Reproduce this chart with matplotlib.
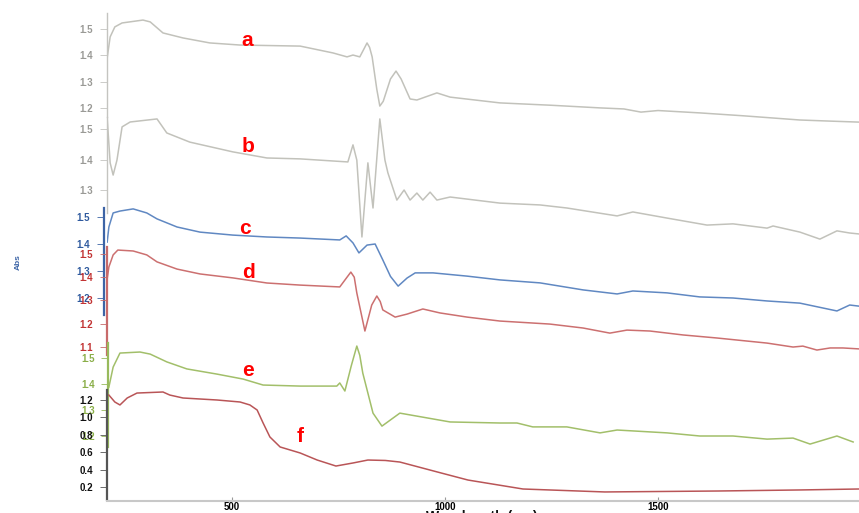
import matplotlib.pyplot as plt

# absorbance spectra, one trace per sample
wl_a = [207, 214, 225, 242, 291, 308, 338, 385, 448, 519, 660, 737, 770, 784, 800, 810, 817, 823,
        829, 840, 847, 855, 872, 885, 897, 918, 934, 981, 1012, 1129, 1250, 1364, 1420, 1460, 1500,
        1598, 1700, 1833, 1900, 1971]
abs_a = [1.390, 1.470, 1.508, 1.523, 1.534, 1.527, 1.485, 1.466, 1.447, 1.439, 1.435, 1.409, 1.394,
         1.401, 1.394, 1.425, 1.447, 1.430, 1.394, 1.270, 1.207, 1.225, 1.310, 1.340, 1.310, 1.234,
         1.230, 1.257, 1.241, 1.219, 1.210, 1.200, 1.196, 1.184, 1.190, 1.181, 1.170, 1.154, 1.150,
         1.146]

wl_b = [207, 214, 221, 230, 242, 261, 324, 347, 401, 502, 582, 660, 772, 784, 793, 805, 819, 831,
        847, 859, 866, 887, 904, 918, 934, 948, 965, 981, 1012, 1129, 1223, 1286, 1404, 1441, 1521,
        1615, 1676, 1756, 1770, 1833, 1880, 1920, 1950, 1971]
abs_b = [1.536, 1.389, 1.349, 1.398, 1.507, 1.523, 1.533, 1.487, 1.457, 1.425, 1.405, 1.402, 1.392,
         1.448, 1.398, 1.146, 1.389, 1.241, 1.533, 1.398, 1.356, 1.267, 1.300, 1.267, 1.290, 1.267,
         1.293, 1.267, 1.277, 1.257, 1.251, 1.241, 1.215, 1.228, 1.208, 1.185, 1.189, 1.175, 1.182,
         1.162, 1.139, 1.166, 1.159, 1.156]

wl_c = [207, 211, 221, 237, 268, 300, 324, 371, 425, 502, 582, 660, 753, 768, 784, 798, 817, 836,
        854, 872, 890, 911, 930, 972, 1052, 1129, 1223, 1324, 1404, 1441, 1521, 1598, 1676, 1756,
        1833, 1920, 1950, 1971]
abs_c = [1.407, 1.463, 1.515, 1.522, 1.530, 1.515, 1.493, 1.463, 1.444, 1.433, 1.426, 1.422, 1.415,
         1.430, 1.404, 1.367, 1.396, 1.400, 1.341, 1.280, 1.244, 1.274, 1.293, 1.293, 1.281, 1.267,
         1.256, 1.230, 1.215, 1.226, 1.219, 1.204, 1.200, 1.189, 1.181, 1.152, 1.174, 1.170]

wl_d = [207, 211, 221, 232, 268, 300, 324, 371, 425, 502, 582, 660, 753, 770, 779, 787, 793, 812,
        828, 840, 848, 854, 883, 911, 948, 988, 1052, 1129, 1246, 1324, 1387, 1427, 1481, 1559, 1638,
        1756, 1817, 1840, 1873, 1904, 1934, 1971]
abs_d = [1.392, 1.444, 1.496, 1.517, 1.513, 1.496, 1.466, 1.435, 1.414, 1.397, 1.375, 1.366, 1.358,
         1.400, 1.422, 1.400, 1.332, 1.168, 1.280, 1.319, 1.295, 1.259, 1.228, 1.241, 1.263, 1.246,
         1.228, 1.211, 1.198, 1.181, 1.159, 1.172, 1.168, 1.151, 1.138, 1.116, 1.099, 1.103, 1.086,
         1.095, 1.095, 1.091]

wl_e = [211, 221, 237, 284, 308, 347, 394, 465, 526, 573, 660, 746, 753, 765, 780, 793, 800, 807,
        831, 852, 878, 894, 1012, 1129, 1169, 1206, 1286, 1364, 1404, 1521, 1598, 1676, 1756, 1817,
        1857, 1920, 1958]
abs_e = [1.388, 1.465, 1.519, 1.523, 1.515, 1.485, 1.458, 1.438, 1.419, 1.396, 1.392, 1.392, 1.404,
         1.373, 1.470, 1.546, 1.510, 1.442, 1.288, 1.238, 1.269, 1.288, 1.254, 1.250, 1.250, 1.235,
         1.235, 1.212, 1.223, 1.212, 1.200, 1.200, 1.188, 1.192, 1.169, 1.200, 1.177]

wl_f = [211, 225, 237, 254, 277, 338, 354, 385, 465, 519, 542, 559, 573, 589, 613, 660, 700, 744,
        784, 819, 860, 894, 991, 1054, 1183, 1375, 1641, 1833, 1971]
abs_f = [1.257, 1.177, 1.143, 1.223, 1.280, 1.292, 1.257, 1.223, 1.200, 1.177, 1.143, 1.085, 0.936,
         0.775, 0.660, 0.591, 0.510, 0.441, 0.476, 0.510, 0.505, 0.487, 0.361, 0.280, 0.177, 0.143,
         0.154, 0.166, 0.177]

labels = ['a', 'b', 'c', 'd', 'e', 'f']
yticks_a = [1.2, 1.3, 1.4, 1.5]
yticks_b = [1.3, 1.4, 1.5]
yticks_c = [1.2, 1.3, 1.4, 1.5]
yticks_d = [1.1, 1.2, 1.3, 1.4, 1.5]
yticks_e = [1.2, 1.3, 1.4, 1.5]
yticks_f = [0.2, 0.4, 0.6, 0.8, 1.0, 1.2]
xticks = [500, 1000, 1500]

W, H = 859, 513
fig = plt.figure(figsize=(W / 100, H / 100), dpi=100)
plt.rcParams['font.family'] = ['Liberation Sans', 'DejaVu Sans']

x_left, x_right = 107, 859      # pixel extent of the plotting area
base = 501                      # pixel row of the wavelength axis
wl_min, wl_max = 206.6, 1971.8

# each trace gets its own overlaid axes: (x, y, ticks, ref value, ref row, px per unit,
# spine rows, line colour, axis colour, tick colour, spine offset)
panels = [
    (wl_a, abs_a, yticks_a, 1.5, 29, 263, (13, 117), '#c2c2bb', '#c4c4c0', '#9a9a96', 0),
    (wl_b, abs_b, yticks_b, 1.5, 129, 305, (117, 213), '#c2c2bb', '#c4c4c0', '#9a9a96', 0),
    (wl_c, abs_c, yticks_c, 1.5, 217, 270, (208, 315), '#6088c2', '#3c64a6', '#2f5a9e', 2),
    (wl_d, abs_d, yticks_d, 1.5, 254, 232, (247, 355), '#cc7070', '#c86a6a', '#c23434', 0),
    (wl_e, abs_e, yticks_e, 1.5, 358, 260, (343, 447), '#a2bf6a', '#98ba5c', '#8aae48', -1),
    (wl_f, abs_f, yticks_f, 1.2, 400, 87, (390, 500), '#b95557', '#555555', '#111111', 0),
]

for i, (wl, ab, yt, v0, y0, s, (top, bot), lc, sc, tc, off) in enumerate(panels):
    ax = fig.add_axes([x_left / W, (H - base) / H, (x_right - x_left) / W, base / H])
    ax.patch.set_alpha(0)
    to_val = lambda py: v0 - (py - y0) / s
    ax.set_ylim(to_val(base), to_val(0))
    ax.set_xlim(wl_min, wl_max)
    ax.plot(wl, ab, color=lc, lw=1.1, solid_joinstyle='round')

    for side in ['top', 'right', 'bottom']:
        ax.spines[side].set_visible(False)
    ax.spines['left'].set_bounds(to_val(bot), to_val(top))
    ax.spines['left'].set_color(sc)
    ax.spines['left'].set_linewidth(1.6 if i >= 2 else 1.0)
    ax.spines['left'].set_position(('outward', off))

    ax.set_yticks(yt)
    ax.set_yticklabels(['%.1f' % t for t in yt])
    ax.tick_params(axis='y', length=5, width=0.6, color=sc, pad=5,
                   labelsize=7, labelcolor=tc)
    for lab in ax.get_yticklabels():
        lab.set_fontweight('bold')

    if i == len(panels) - 1:
        ax.spines['bottom'].set_visible(True)
        ax.spines['bottom'].set_color('#c8c8c8')
        ax.spines['bottom'].set_linewidth(1.5)
        ax.set_xticks(xticks)
        ax.tick_params(axis='x', direction='in', length=3, color='#999999', pad=0.5,
                       labelsize=7)
        for lab in ax.get_xticklabels():
            lab.set_fontweight('bold')
    else:
        ax.set_xticks([])

# sample letters
letter_pos = [(247, 40), (248, 146), (245, 229), (248, 272), (248, 371), (300, 437)]
for lab, (px, py) in zip(labels, letter_pos):
    fig.text(px / W, 1 - py / H, lab, color='#ff0000', fontsize=15, fontweight='bold',
             ha='center', va='center')

fig.text(18 / W, 1 - 262 / H, 'Abs', rotation=90, color='#3c64a6', fontsize=6,
         fontweight='bold', ha='center', va='center')
fig.text(482 / W, 1 - 517 / H, 'Wavelength (nm)', color='#111111', fontsize=10,
         fontweight='bold', ha='center', va='center')

fig.savefig('out.png', dpi=100)
